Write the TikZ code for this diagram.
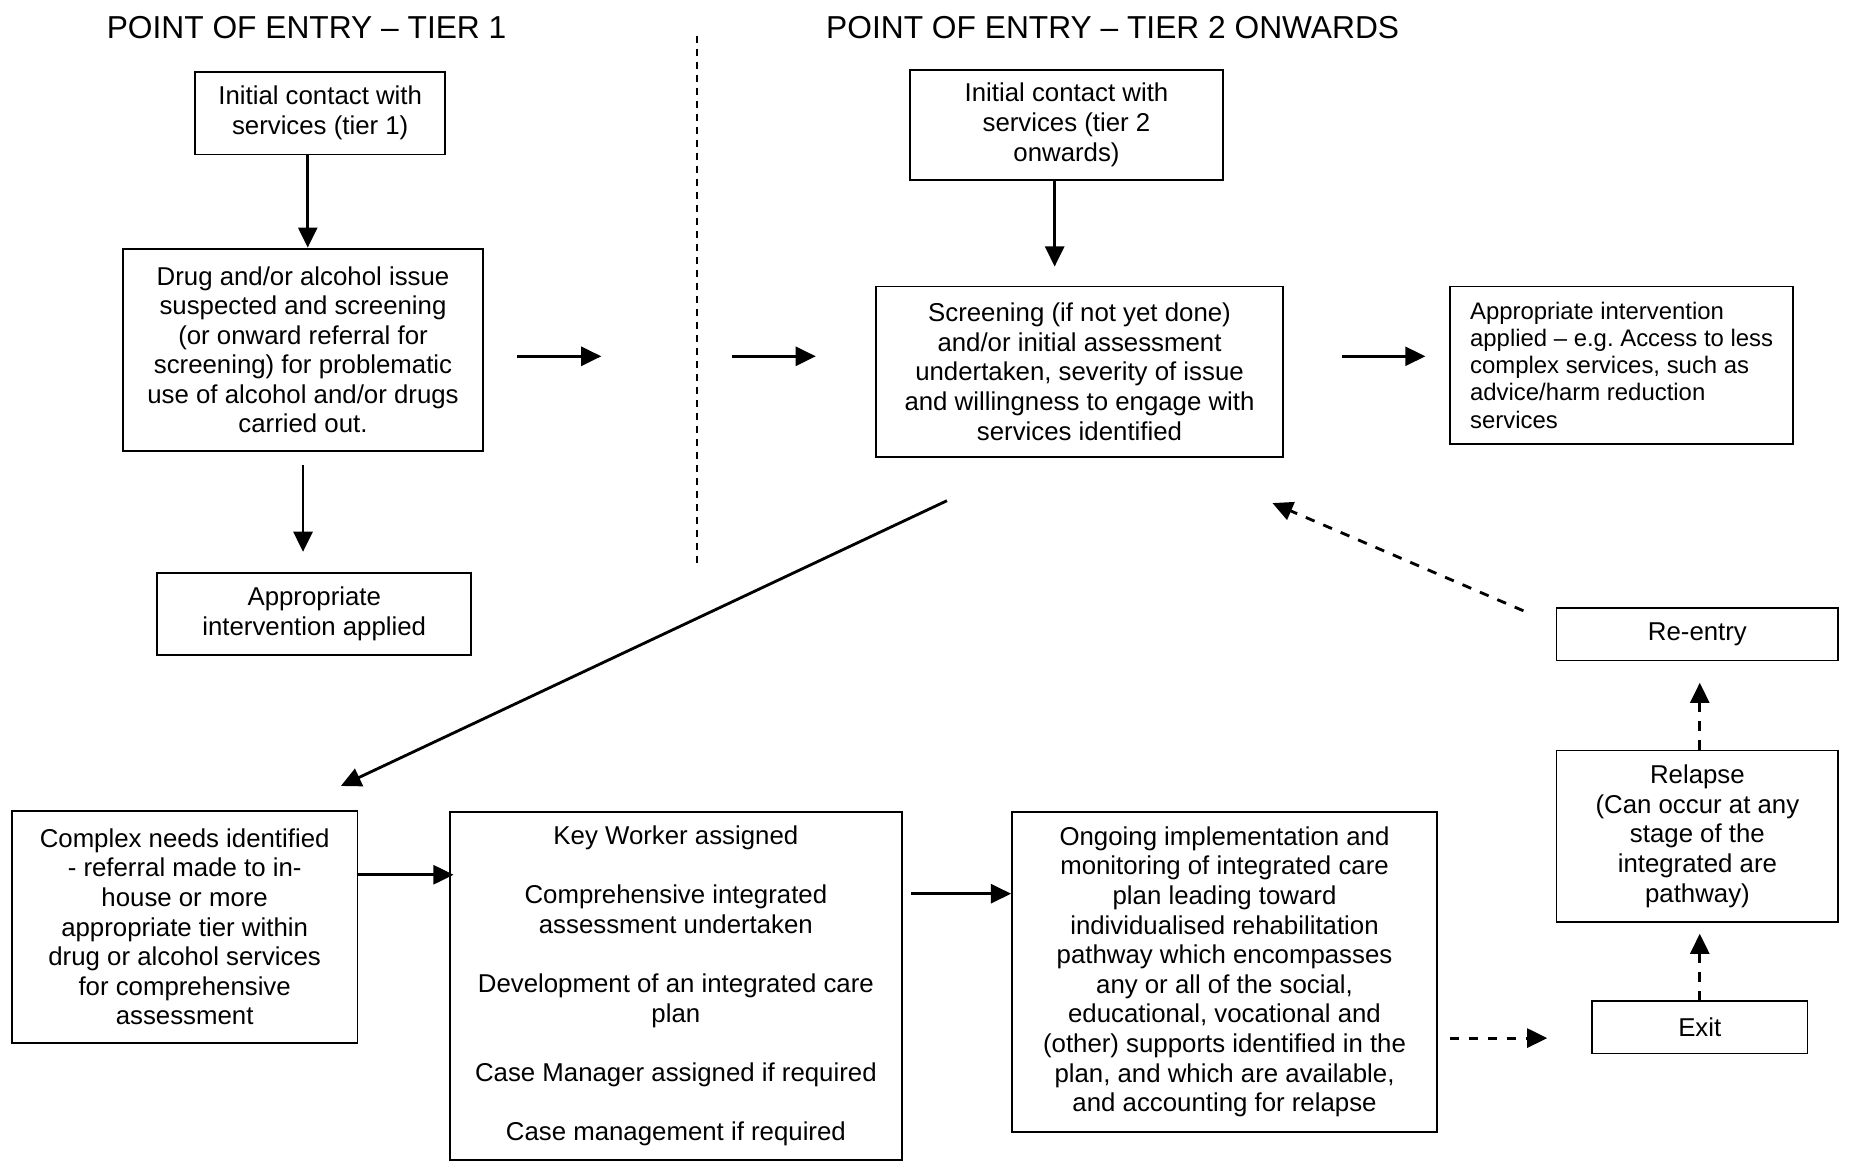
\documentclass[tikz,border=0pt]{standalone}
\usepackage{fontspec}
\setmainfont{Liberation Sans}
\usetikzlibrary{arrows.meta}
\begin{document}
\begin{tikzpicture}[x=0.5pt,y=-0.5pt,
  box/.style={draw, line width=0.8pt, align=center, inner sep=0pt, font=\fontsize{10.9}{12.5}\selectfont},
  arr/.style={line width=1.2pt, -{Triangle[length=8.5pt,width=8pt]}},
  darr/.style={arr, dash pattern=on 4pt off 4pt},
  ttl/.style={font=\fontsize{13.4}{15}\selectfont, inner sep=0pt}
]
\useasboundingbox (0,0) rectangle (1568,982);

% titles
\node[ttl] (t1) at (259,23) {POINT OF ENTRY – TIER 1};
\node[ttl] (t2) at (940,23) {POINT OF ENTRY – TIER 2 ONWARDS};
\coordinate (divT) at (589,30);
\coordinate (divB) at (589,480);
\draw[line width=0.6pt, dash pattern=on 3pt off 2.5pt] (divT) -- (divB);

% tier 1
\node[box, minimum width=105.5pt, minimum height=35pt] (A1) at (270.5,95.5)
  {Initial contact with\\ services (tier 1)};
\node[box, minimum width=152pt, minimum height=85.5pt] (A2) at (256,295.5)
  {Drug and/or alcohol issue\\ suspected and screening\\ (or onward referral for\\ screening) for problematic\\ use of alcohol and/or drugs\\ carried out.};
\node[box, minimum width=132.5pt, minimum height=34.5pt] (A3) at (265.5,518.5)
  {Appropriate\\ intervention applied};

% tier 2
\node[box, minimum width=132pt, minimum height=46.5pt] (B1) at (901,105.5)
  {Initial contact with\\ services (tier 2\\ onwards)};
\node[box, minimum width=172pt, minimum height=72pt] (B2) at (912,314)
  {Screening (if not yet done)\\ and/or initial assessment\\ undertaken, severity of issue\\ and willingness to engage with\\ services identified};
\node[box, align=left, font=\fontsize{10.1}{11.5}\selectfont, minimum width=145pt, minimum height=66.5pt] (B3) at (1370,308.5)
  {Appropriate intervention\\ applied – e.g.\ Access to less\\ complex services, such as\\ advice/harm reduction\\ services};

% bottom row
\node[box, minimum width=146pt, minimum height=98pt] (C1) at (156,783)
  {Complex needs identified\\ - referral made to in-\\ house or more\\ appropriate tier within\\ drug or alcohol services\\ for comprehensive\\ assessment};
\node[box, minimum width=191pt, minimum height=147pt] (C2) at (571,833)
  {Key Worker assigned\\[12.5pt] Comprehensive integrated\\ assessment undertaken\\[12.5pt] Development of an integrated care\\ plan\\[12.5pt] Case Manager assigned if required\\[12.5pt] Case management if required};
\node[box, minimum width=179.5pt, minimum height=135pt] (C3) at (1034.5,821)
  {Ongoing implementation and\\ monitoring of integrated care\\ plan leading toward\\ individualised rehabilitation\\ pathway which encompasses\\ any or all of the social,\\ educational, vocational and\\ (other) supports identified in the\\ plan, and which are available,\\ and accounting for relapse};

% right column
\node[box, minimum width=119pt, minimum height=22pt] (RE) at (1434,536) {Re-entry};
\node[box, minimum width=119pt, minimum height=72.5pt] (RL) at (1434,706.5)
  {Relapse\\ (Can occur at any\\ stage of the\\ integrated are\\ pathway)};
\node[box, minimum width=91pt, minimum height=22pt] (EX) at (1436,868) {Exit};

% helper coordinates
\coordinate (xa) at (260,0);
\coordinate (xb) at (256,0);
\coordinate (xc) at (891,0);
\coordinate (xd) at (1436,0);
\coordinate (ya) at (0,301);
\coordinate (yb) at (0,739);
\coordinate (yc) at (0,755);
\coordinate (yd) at (0,877);
\coordinate (f1s) at (437,301);
\coordinate (f1e) at (508,301);
\coordinate (f2s) at (618,301);
\coordinate (dgS) at (800,423);
\coordinate (dgE) at (288,664);
\coordinate (rtS) at (1287,516);
\coordinate (rtE) at (1075,425);

% connectors
\draw[arr] (A1.south -| xa) -- (A2.north -| xa);
\draw[arr, shorten <=5.5pt, shorten >=8.5pt] (A2.south -| xb) -- (A3.north -| xb);
\draw[arr] (f1s) -- (f1e);
\draw[arr, shorten >=25pt] (f2s) -- (B2.west |- ya);
\draw[arr, shorten >=8pt] (B1.south -| xc) -- (B2.north -| xc);
\draw[arr, shorten <=24.5pt, shorten >=10pt] (B2.east |- ya) -- (B3.west |- ya);
\draw[arr] (dgS) -- (dgE);
\draw[darr] (rtS) -- (rtE);
\draw[arr, shorten >=-2pt] (C1.east |- yb) -- (C2.west |- yb);
\draw[arr, shorten <=3.5pt] (C2.east |- yc) -- (C3.west |- yc);
\draw[darr, shorten <=5pt, shorten >=18.5pt] (C3.east |- yd) -- (EX.west |- yd);
\draw[darr, shorten >=4.5pt] (EX.north -| xd) -- (RL.south -| xd);
\draw[darr, shorten >=9pt] (RL.north -| xd) -- (RE.south -| xd);
\end{tikzpicture}
\end{document}
